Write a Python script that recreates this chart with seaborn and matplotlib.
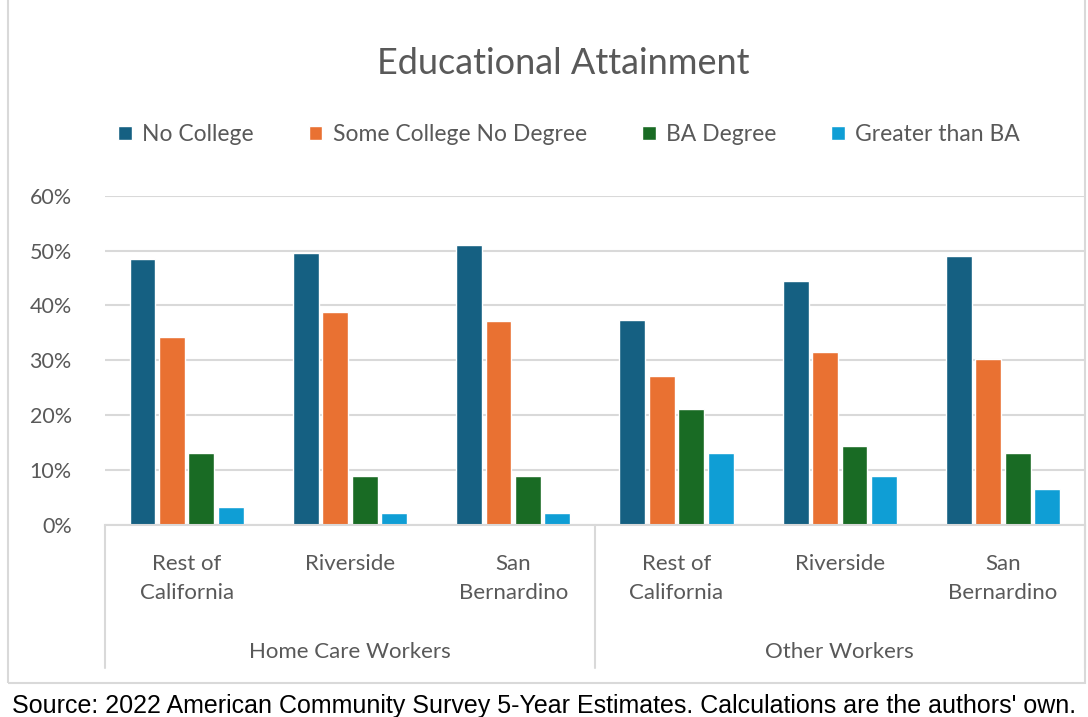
import seaborn as sns
import matplotlib.pyplot as plt
import matplotlib.transforms as mtransforms
from matplotlib.patches import Rectangle
import pandas as pd

# data (percent)
groups = ["Home Care Workers", "Other Workers"]
places = ["Rest of\nCalifornia", "Riverside", "San\nBernardino"]
levels = ["No College", "Some College No Degree", "BA Degree", "Greater than BA"]
no_college = [48.5, 49.6, 51.1, 37.3, 44.4, 49.0]
some_college = [34.3, 38.8, 37.2, 27.1, 31.5, 30.3]
ba_degree = [13.1, 8.9, 8.9, 21.1, 14.4, 13.1]
greater_ba = [3.2, 2.2, 2.2, 13.1, 8.9, 6.5]
colors = ["#156082", "#E97132", "#196B24", "#0F9ED5"]

cats = [g + "|" + p for g in groups for p in places]
rows = []
for lev, vals in zip(levels, [no_college, some_college, ba_degree, greater_ba]):
    for c, v in zip(cats, vals):
        rows.append({"cat": c, "level": lev, "pct": v / 100})
df = pd.DataFrame(rows)

sns.set_style("white")
plt.rcParams["font.family"] = ["Lato", "DejaVu Sans"]
grey = "#595959"

fig = plt.figure(figsize=(10.88, 7.17), dpi=100)
ax = fig.add_axes([0.0965, 0.268, 0.9005, 0.459])
sns.barplot(data=df, x="cat", y="pct", hue="level", order=cats, hue_order=levels,
            palette=colors, width=0.72, gap=0.12, ax=ax, saturation=1)

handles, labels = ax.get_legend_handles_labels()
ax.get_legend().remove()
fig.legend(handles, labels, ncol=4, frameon=False, loc="center",
           bbox_to_anchor=(0.523, 0.812), handlelength=0.6, handleheight=0.6,
           columnspacing=2.4, handletextpad=0.45, labelcolor=grey,
           prop={"size": 16.5})

ax.set_ylim(0, 0.6)
ax.set_xlim(-0.5, 5.5)
ax.set_yticks([0, 0.1, 0.2, 0.3, 0.4, 0.5, 0.6])
ax.set_yticklabels([f"{int(round(t*100))}%" for t in ax.get_yticks()], fontsize=15.5, color=grey)
ax.yaxis.grid(True, color="#d9d9d9", linewidth=1.5)
ax.set_axisbelow(True)
for s in ["left", "right", "top"]:
    ax.spines[s].set_visible(False)
ax.spines["bottom"].set_color("#d9d9d9")
ax.spines["bottom"].set_linewidth(1.5)
ax.tick_params(axis="y", length=0, pad=24)
ax.tick_params(axis="x", length=0, pad=21)
ax.set_xticks(range(6))
ax.set_xticklabels(places * 2, fontsize=16, color=grey, linespacing=1.55)
ax.set_xlabel("")
ax.set_ylabel("")

# group labels and separators under the axis
trans = mtransforms.blended_transform_factory(ax.transData, ax.transAxes)
for i, g in enumerate(groups):
    ax.text(3 * i + 1, -0.385, g, transform=trans, ha="center", va="center",
            fontsize=16, color=grey)
for xs in [-0.5, 2.5, 5.5]:
    ax.plot([xs, xs], [0, -0.435], transform=trans, color="#d9d9d9",
            linewidth=1.5, clip_on=False)

fig.text(0.518, 0.912, "Educational Attainment", ha="center", va="center",
         fontsize=26, color=grey)

# outer chart border and source note
fig.patches.append(Rectangle((8 / 1088, 34 / 717), 1077 / 1088, 690 / 717,
                             transform=fig.transFigure, fill=False,
                             edgecolor="#d9d9d9", linewidth=1.5))
fig.text(12 / 1088, 11 / 717,
         "Source: 2022 American Community Survey 5-Year Estimates. Calculations are the authors' own.",
         ha="left", va="center", fontsize=18, color="black", family="Liberation Sans")

fig.savefig("out.png", dpi=100)
